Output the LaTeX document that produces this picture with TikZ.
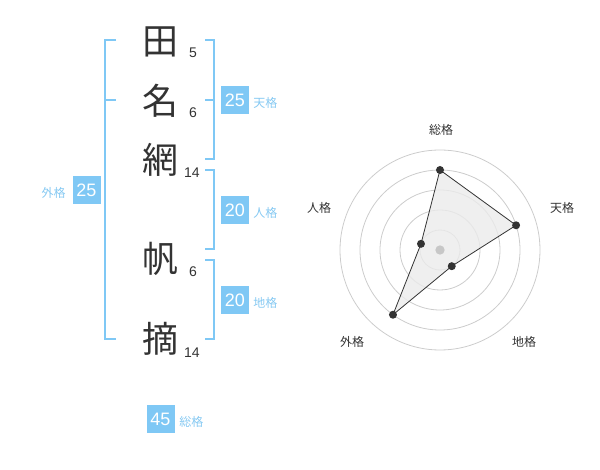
\documentclass[tikz,border=0pt]{standalone}
\usepackage{fontspec}
\setmainfont{Liberation Sans}
\newfontfamily\jp{Noto Sans CJK JP}
\definecolor{brk}{HTML}{7FC8F5}
\definecolor{boxc}{HTML}{7FC8F5}
\definecolor{lbl}{HTML}{86C9F2}
\definecolor{txt}{HTML}{333333}
\definecolor{ring}{HTML}{CCCCCC}
\begin{document}
\begin{tikzpicture}[x=0.75pt,y=-0.75pt,
  kanji/.style={font=\jp\fontsize{27pt}{27pt}\selectfont, text=txt, inner sep=0pt},
  strokes/.style={font=\fontsize{10.5pt}{10.5pt}\selectfont, text=txt, inner sep=0pt},
  valbox/.style={fill=boxc, text=white, font=\fontsize{13.5pt}{13.5pt}\selectfont, minimum width=21pt, minimum height=21pt, inner sep=0pt},
  kaku/.style={font=\jp\fontsize{9pt}{9pt}\selectfont, text=lbl, inner sep=0pt},
  brack/.style={draw=brk, line width=1.5pt},
  rlabel/.style={font=\jp\fontsize{9pt}{9pt}\selectfont, text=txt, inner sep=0pt},
  ringc/.style={draw=ring, line width=0.6pt},
  pt/.style={circle, fill=txt, inner sep=0pt, minimum size=6pt}]
\useasboundingbox (0,0) rectangle (600,470);
% kanji
\node[kanji] (k1) at (160,42) {田};
\node[kanji] (k2) at (160,101) {名};
\node[kanji] (k3) at (160,160) {網};
\node[kanji] (k4) at (160,259) {帆};
\node[kanji] (k5) at (160,339) {摘};
% stroke counts
\node[strokes] (s1) at (193,53) {5};
\node[strokes] (s2) at (193,113) {6};
\node[strokes] (s3) at (192,173) {14};
\node[strokes] (s4) at (193,272) {6};
\node[strokes] (s5) at (192,353) {14};
% left bracket (外格)
\coordinate (la) at (116,40);
\coordinate (lb) at (105,40);
\coordinate (lc) at (105,339);
\coordinate (ld) at (116,339);
\coordinate (lm1) at (105,100);
\coordinate (lm2) at (116,100);
\draw[brack] (la) -- (lb) -- (lc) -- (ld);
\draw[brack] (lm1) -- (lm2);
\node[valbox] (gai) at (86.5,190) {25};
\node[kaku, anchor=east] (gail) at (66,193) {外格};
% 天格 bracket
\coordinate (ta) at (205,40);
\coordinate (tb) at (214.3,40);
\coordinate (tc) at (214.3,159.3);
\coordinate (td) at (205,159.3);
\coordinate (tm1) at (214.3,100);
\coordinate (tm2) at (205,100);
\draw[brack] (ta) -- (tb) -- (tc) -- (td);
\draw[brack] (tm1) -- (tm2);
\node[valbox] (ten) at (234.8,100) {25};
\node[kaku, anchor=west] (tenl) at (253,102.5) {天格};
% 人格 bracket
\coordinate (ja) at (205,170);
\coordinate (jb) at (214.3,170);
\coordinate (jc) at (214.3,249.3);
\coordinate (jd) at (205,249.3);
\draw[brack] (ja) -- (jb) -- (jc) -- (jd);
\node[valbox] (jin) at (234.8,210.3) {20};
\node[kaku, anchor=west] (jinl) at (253,213) {人格};
% 地格 bracket
\coordinate (ca) at (205,260);
\coordinate (cb) at (214.3,260);
\coordinate (cc) at (214.3,339.3);
\coordinate (cd) at (205,339.3);
\draw[brack] (ca) -- (cb) -- (cc) -- (cd);
\node[valbox] (chi) at (234.8,300.2) {20};
\node[kaku, anchor=west] (chil) at (253,302.5) {地格};
% 総格
\node[valbox] (sou) at (160.5,419.2) {45};
\node[kaku, anchor=west] (soul) at (179,422) {総格};
% radar chart
\coordinate (O) at (440,250);
\foreach \r in {20,40,60,80,100} \draw[ringc] (O) circle[radius=\r];
\path (O) ++(0,-80) coordinate (P1);
\path (O) ++({80*cos(18)},{-80*sin(18)}) coordinate (P2);
\path (O) ++({20*cos(-54)},{-20*sin(-54)}) coordinate (P3);
\path (O) ++({80*cos(-126)},{-80*sin(-126)}) coordinate (P4);
\path (O) ++({20*cos(162)},{-20*sin(162)}) coordinate (P5);
\filldraw[fill=black!8, fill opacity=0.8, draw=txt, line width=0.6pt] (P1) -- (P2) -- (P3) -- (P4) -- (P5) -- cycle;
\node[circle, fill=black!22, inner sep=0pt, minimum size=7pt] (ctr) at (O) {};
\node[pt] (d1) at (P1) {};
\node[pt] (d2) at (P2) {};
\node[pt] (d3) at (P3) {};
\node[pt] (d4) at (P4) {};
\node[pt] (d5) at (P5) {};
\node[rlabel] (r1) at (441,130) {総格};
\node[rlabel] (r2) at (562,208) {天格};
\node[rlabel] (r3) at (524,342) {地格};
\node[rlabel] (r4) at (352,342) {外格};
\node[rlabel] (r5) at (319,208) {人格};
\end{tikzpicture}
\end{document}
